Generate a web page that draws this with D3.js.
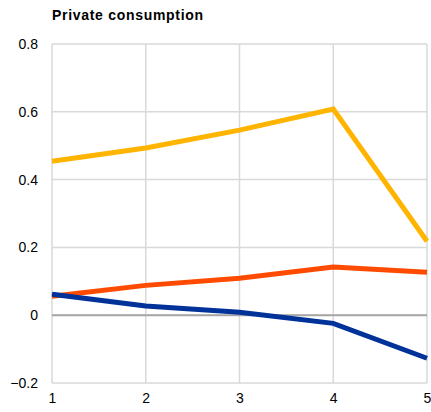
<!DOCTYPE html>
<html><head><meta charset="utf-8">
<script src="https://cdn.jsdelivr.net/npm/d3@7"></script>
<style>body{margin:0;background:#fff}svg{display:block;font-family:"Liberation Sans",Arial,sans-serif}</style>
</head><body><svg id="c" width="431" height="412"></svg>
<script>
const categories = [1, 2, 3, 4, 5];
const yellowSeries = [0.454, 0.493, 0.546, 0.608, 0.218];
const orangeSeries = [0.056, 0.088, 0.109, 0.142, 0.127];
const blueSeries = [0.062, 0.027, 0.009, -0.024, -0.127];
const yTicks = [-0.2, 0, 0.2, 0.4, 0.6, 0.8];
const title = "Private consumption";

const svg = d3.select("#c");
const x = d3.scaleLinear().domain([1, 5]).range([52, 427]);
const y = d3.scaleLinear().domain([-0.2, 0.8]).range([383, 44]);

// grid
svg.append("g").selectAll("line").data(yTicks).join("line")
  .attr("x1", x(1)).attr("x2", x(5)).attr("y1", d => y(d)).attr("y2", d => y(d))
  .attr("stroke", "#d9d9d9").attr("stroke-width", 1.5);
svg.append("g").selectAll("line").data(categories).join("line")
  .attr("x1", d => x(d)).attr("x2", d => x(d)).attr("y1", y(0.8)).attr("y2", y(-0.2))
  .attr("stroke", "#d9d9d9").attr("stroke-width", 1.5);
// zero line
svg.append("line").attr("x1", x(1)).attr("x2", x(5)).attr("y1", y(0)).attr("y2", y(0))
  .attr("stroke", "#a6a6a6").attr("stroke-width", 2);

// axes labels
const yAxis = d3.axisLeft(y).tickValues(yTicks).tickSize(0).tickPadding(14)
  .tickFormat(d => d === 0 ? "0" : d3.format(".1f")(d));
const gy = svg.append("g").attr("transform", `translate(${x(1)},0)`).call(yAxis);
gy.select(".domain").remove();
gy.selectAll("text").attr("font-size", 14).attr("fill", "#000").attr("font-family", "Liberation Sans, Arial, sans-serif");

const xAxis = d3.axisBottom(x).tickValues(categories).tickSize(0).tickPadding(10).tickFormat(d3.format("d"));
const gx = svg.append("g").attr("transform", `translate(0,${y(-0.2)})`).call(xAxis);
gx.select(".domain").remove();
gx.selectAll("text").attr("font-size", 14).attr("fill", "#000").attr("font-family", "Liberation Sans, Arial, sans-serif");

// lines
const line = d3.line().x((d, i) => x(categories[i])).y(d => y(d));
[[yellowSeries, "#ffb400"], [orangeSeries, "#ff4b00"], [blueSeries, "#003299"]].forEach(([s, c]) => {
  svg.append("path").datum(s).attr("d", line).attr("fill", "none")
    .attr("stroke", c).attr("stroke-width", 5).attr("stroke-linejoin", "miter");
});

svg.append("text").attr("x", 52).attr("y", 20).attr("font-size", 14).attr("letter-spacing", 0.7)
  .attr("font-weight", "bold").text(title);
</script></body></html>
